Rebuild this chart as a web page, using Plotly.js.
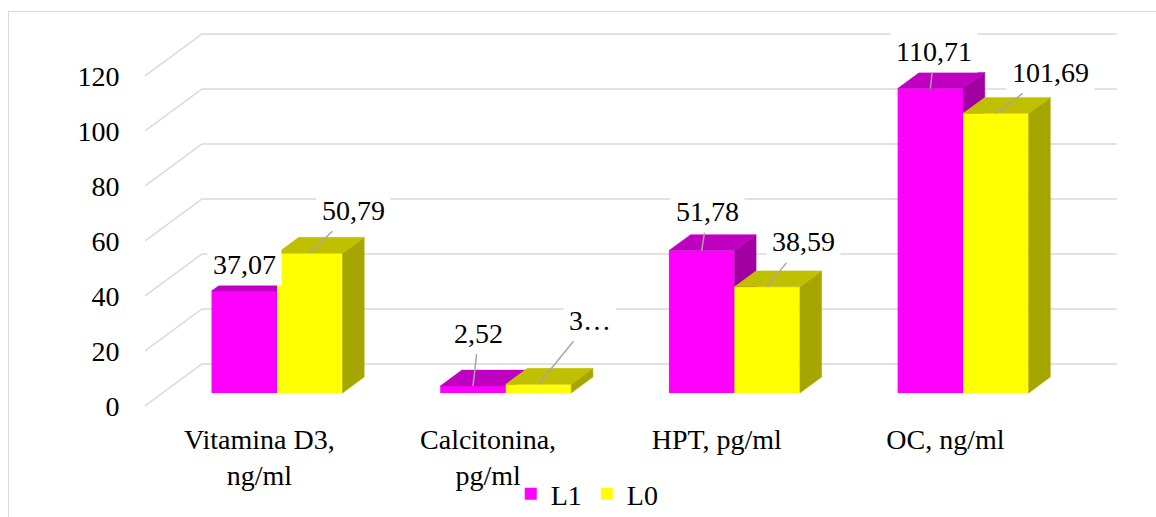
<!DOCTYPE html>
<html>
<head>
<meta charset="utf-8">
<script src="https://cdn.plot.ly/plotly-3.0.1.min.js"></script>
<style>
  html, body { margin: 0; padding: 0; background: #ffffff; }
  #chart { width: 1156px; height: 517px; }
</style>
</head>
<body>
<div id="chart"></div>
<script>
// ---------------- data ----------------
const categories = ['Vitamina D3,<br>ng/ml', 'Calcitonina,<br>pg/ml', 'HPT, pg/ml', 'OC, ng/ml'];
const seriesNames = ['L1', 'L0'];
const valuesL1 = [37.07, 2.52, 51.78, 110.71];
const valuesL0 = [50.79, 3.16, 38.59, 101.69];
const labelsL1 = ['37,07', '2,52', '51,78', '110,71'];
const labelsL0 = ['50,79', '3…', '38,59', '101,69'];
const yTicks = [0, 20, 40, 60, 80, 100, 120];

// ---------------- 3D oblique projection settings ----------------
const KX = 0.2492;   // x shift (category units) for full depth
const KY = 15.27;    // y shift (value units) for full depth
const DB = 0.31;     // depth of bar front face
const DD = 0.38;     // bar depth
const W = 0.2864;    // bar width (category units)
const FONT = 'Liberation Serif';
const FS = 28;

const idx = categories.map((_, i) => i);
const colors = {
  L1: { front: '#FF00FF', top: '#C000C0', side: '#A000A0' },
  L0: { front: '#FFFF00', top: '#C0C000', side: '#A6A600' }
};

function barGeom(vals, sign) {
  return vals.map((v, i) => {
    const c = i + KX * DB + sign * W / 2;
    const base = KY * DB;
    return { c, xl: c - W / 2, xr: c + W / 2, base, top: base + v };
  });
}

function faceTraces(geom, col, xa, ya) {
  const tx = [], ty = [], sx = [], sy = [];
  const dx = KX * DD, dy = KY * DD;
  geom.forEach(g => {
    tx.push(g.xl, g.xr, g.xr + dx, g.xl + dx, g.xl, null);
    ty.push(g.top, g.top, g.top + dy, g.top + dy, g.top, null);
    sx.push(g.xr, g.xr, g.xr + dx, g.xr + dx, g.xr, null);
    sy.push(g.base, g.top, g.top + dy, g.base + dy, g.base, null);
  });
  const common = { type: 'scatter', mode: 'lines', fill: 'toself', showlegend: false,
                   hoverinfo: 'skip', xaxis: xa, yaxis: ya };
  return [
    Object.assign({ x: sx, y: sy, fillcolor: col.side, line: { color: col.side, width: 0.5 } }, common),
    Object.assign({ x: tx, y: ty, fillcolor: col.top, line: { color: col.top, width: 0.5 } }, common)
  ];
}

const g1 = barGeom(valuesL1, -1);
const g0 = barGeom(valuesL0, +1);

const traces = [
  { type: 'bar', name: seriesNames[0], x: g1.map(g => g.c), y: valuesL1, base: g1.map(g => g.base),
    width: W, marker: { color: colors.L1.front, line: { width: 0 } }, xaxis: 'x', yaxis: 'y', hoverinfo: 'skip' },
  ...faceTraces(g1, colors.L1, 'x', 'y'),
  { type: 'bar', name: seriesNames[1], x: g0.map(g => g.c), y: valuesL0, base: g0.map(g => g.base),
    width: W, marker: { color: colors.L0.front, line: { width: 0 } }, xaxis: 'x2', yaxis: 'y2', hoverinfo: 'skip' },
  ...faceTraces(g0, colors.L0, 'x2', 'y2')
];

// gridlines: slanted side-wall lines and back-wall lines
const xLeft = -0.5, xRight = categories.length - 0.5;
const shapes = [];
yTicks.forEach(v => {
  shapes.push({ type: 'path', layer: 'below', xref: 'x', yref: 'y',
    path: `M${xLeft},${v} L${xLeft + KX},${v + KY} L${xRight + KX},${v + KY}`,
    line: { color: '#D9D9D9', width: 1.5 } });
});
// chart area frame (left and top edges)
shapes.push({ type: 'path', layer: 'below', xref: 'paper', yref: 'paper',
  path: `M${(8.5 - 145) / 972},${(420 - 530) / 400} L${(8.5 - 145) / 972},${(420 - 11.5) / 400} L${(1170 - 145) / 972},${(420 - 11.5) / 400}`,
  line: { color: '#D9D9D9', width: 1 } });

// data labels
const offL1 = [[0, -27, false], [6, -53, true], [6, -39, true], [4, -37, true]];
const offL0 = [[44, -43, true], [52, -64, true], [36, -45, true], [55, -41, true]];
const annotations = [];
function addLabels(geom, labels, offs) {
  geom.forEach((g, i) => {
    const [ax, ay, arrow] = offs[i];
    const a = { x: g.c, y: g.top, xref: 'x', yref: 'y', text: labels[i],
      font: { family: FONT, size: FS, color: '#000000' }, bgcolor: '#FFFFFF', borderpad: 5 };
    if (arrow) {
      Object.assign(a, { showarrow: true, ax, ay, arrowhead: 0, arrowwidth: 1.5,
        arrowcolor: '#A6A6A6', standoff: 0 });
    } else {
      Object.assign(a, { showarrow: false, yshift: -ay, xshift: ax });
    }
    annotations.push(a);
  });
}
addLabels(g1, labelsL1, offL1);
addLabels(g0, labelsL0, offL0);

const xr = [xLeft, xRight + 0.25];
const yr = [-14 / 2.75, 386 / 2.75];

const layout = {
  width: 1156, height: 517,
  margin: { l: 145, r: 39, t: 20, b: 97, pad: 0, autoexpand: false },
  paper_bgcolor: '#FFFFFF', plot_bgcolor: 'rgba(0,0,0,0)',
  font: { family: FONT, size: FS, color: '#000000' },
  barmode: 'overlay',
  showlegend: true,
  legend: { orientation: 'h', x: 0.455, xanchor: 'center', y: -0.185, yanchor: 'middle',
            font: { family: FONT, size: FS, color: '#000000' }, bgcolor: 'rgba(0,0,0,0)', itemwidth: 30 },
  xaxis: { range: xr, tickmode: 'array', tickvals: idx, ticktext: categories, automargin: false,
           showgrid: false, zeroline: false, showline: false, ticks: '', fixedrange: true,
           tickfont: { family: FONT, size: FS, color: '#000000' } },
  yaxis: { range: yr, tickmode: 'array', tickvals: yTicks, ticktext: yTicks.map(String), automargin: false,
           showgrid: false, zeroline: false, showline: false, ticks: 'outside', ticklen: 19,
           tickcolor: 'rgba(0,0,0,0)', fixedrange: true,
           tickfont: { family: FONT, size: FS, color: '#000000' } },
  xaxis2: { range: xr, overlaying: 'x', visible: false, fixedrange: true },
  yaxis2: { range: yr, overlaying: 'y', visible: false, fixedrange: true },
  shapes, annotations
};

function draw() {
  Plotly.newPlot('chart', traces, layout, { staticPlot: true, displayModeBar: false });
}
if (document.fonts && document.fonts.load) {
  document.fonts.load(FS + 'px "' + FONT + '"').then(draw, draw);
} else {
  draw();
}
</script>
</body>
</html>
